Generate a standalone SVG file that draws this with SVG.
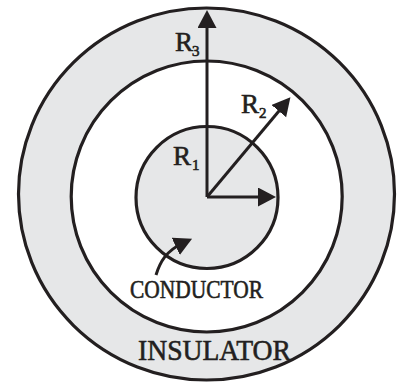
<svg xmlns="http://www.w3.org/2000/svg" width="405" height="383" viewBox="0 0 405 383">
<style>
.ring{stroke:#231f20;stroke-width:3.2}
.ln{stroke:#231f20;stroke-width:3;fill:none}
.t{font-family:"Liberation Serif","Times New Roman",serif;fill:#231f20;stroke:#231f20;stroke-width:0.6}
</style>
<defs>
<marker id="ah" markerUnits="userSpaceOnUse" markerWidth="20" markerHeight="20" refX="8" refY="9.5" orient="auto" viewBox="0 0 20 20">
<path d="M0,0 L18,9.5 L0,19 z" fill="#231f20"/>
</marker>
</defs>
<rect width="405" height="383" fill="#ffffff"/>
<g id="insulator">
<ellipse cx="206.5" cy="194" rx="188" ry="186" class="ring" fill="#e6e7e8"/>
</g>
<g id="gap">
<circle cx="206.7" cy="196.5" r="135.5" class="ring" fill="#ffffff"/>
</g>
<g id="conductor">
<circle cx="207" cy="197.5" r="71" class="ring" fill="#e6e7e8"/>
</g>
<g id="connectors">
<path class="ln" d="M207,197 L207,20" marker-end="url(#ah)"/>
<path class="ln" d="M207,197 L284,105" marker-end="url(#ah)"/>
<path class="ln" d="M207,197 L266,197" marker-end="url(#ah)"/>
<path class="ln" d="M156,275 C160,262 166,251 183,243" marker-end="url(#ah)"/>
</g>
<g id="labels">
<text class="t" x="175" y="51" font-size="27">R</text><text class="t" x="192" y="56" font-size="15">3</text>
<text class="t" x="241" y="113" font-size="27">R</text><text class="t" x="259" y="118" font-size="15">2</text>
<text class="t" x="173" y="165" font-size="27">R</text><text class="t" x="192" y="170" font-size="15">1</text>
<text class="t" x="130" y="298" font-size="25" textLength="133" lengthAdjust="spacingAndGlyphs">CONDUCTOR</text>
<text class="t" x="138" y="360" font-size="30" textLength="153" lengthAdjust="spacingAndGlyphs">INSULATOR</text>
</g>
</svg>
